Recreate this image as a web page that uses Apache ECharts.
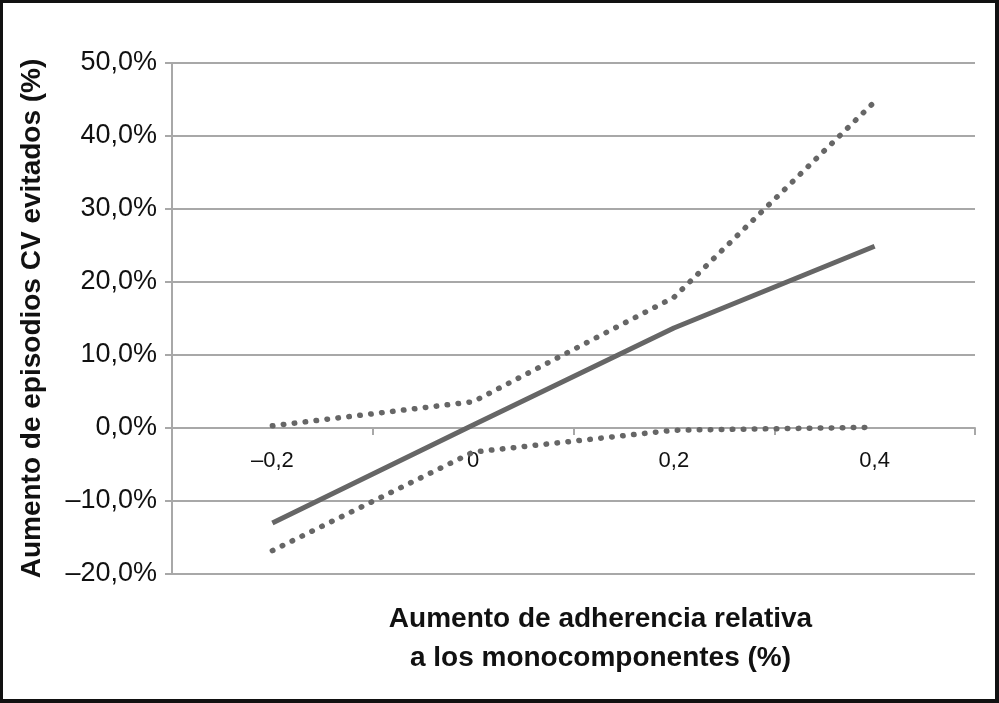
<!DOCTYPE html>
<html>
<head>
<meta charset="utf-8">
<script src="https://cdn.jsdelivr.net/npm/echarts@6/dist/echarts.min.js"></script>
<style>
html,body{margin:0;padding:0;background:#fff;}
#c{width:999px;height:703px;}
</style>
</head>
<body>
<div id="c"></div>
<script>
var categories = ['\u20130,2', '0', '0,2', '0,4'];
var central = [-13.0, 0.4, 13.7, 24.9];
var upper = [0.3, 3.6, 17.9, 44.7];
var lower = [-16.8, -3.3, -0.3, 0.1];
var yTicks = [-20, -10, 0, 10, 20, 30, 40, 50];

var chart = echarts.init(document.getElementById('c'), null, {renderer: 'canvas'});
var font = 'Liberation Sans, Arial, Helvetica, sans-serif';
var gray = '#666666';
chart.setOption({
  animation: false,
  backgroundColor: '#fff',
  grid: {left: 172, right: 24, top: 63, bottom: 129, containLabel: false, outerBoundsMode: 'none'},
  xAxis: {
    type: 'category',
    data: categories,
    boundaryGap: true,
    axisLine: {onZero: true, lineStyle: {color: '#a8a8a8', width: 2}},
    axisTick: {show: true, alignWithLabel: false, length: 7, lineStyle: {color: '#a8a8a8', width: 2}},
    axisLabel: {color: '#111', fontFamily: font, fontSize: 22, margin: -124, verticalAlign: 'top'},
    name: 'Aumento de adherencia relativa\na los monocomponentes (%)',
    nameLocation: 'middle',
    nameGap: 26,
    nameTextStyle: {color: '#111', fontFamily: font, fontSize: 28, fontWeight: 'bold', lineHeight: 39, padding: [0, 0, 0, 54]}
  },
  yAxis: {
    type: 'value',
    min: yTicks[0],
    max: yTicks[yTicks.length - 1],
    interval: 10,
    axisLine: {show: true, onZero: false, lineStyle: {color: '#a8a8a8', width: 2}},
    axisTick: {show: true, length: 7, lineStyle: {color: '#a8a8a8', width: 2}},
    splitLine: {show: true, lineStyle: {color: '#a8a8a8', width: 2}},
    axisLabel: {
      color: '#111', fontFamily: font, fontSize: 27, margin: 15,
      formatter: function (v) { return (v < 0 ? '\u2013' + (-v).toFixed(1) : v.toFixed(1)).replace('.', ',') + '%'; }
    },
    name: 'Aumento de episodios CV evitados (%)',
    nameLocation: 'middle',
    nameGap: 126,
    nameRotate: 90,
    nameTextStyle: {color: '#111', fontFamily: font, fontSize: 28, fontWeight: 'bold'}
  },
  series: [
    {type: 'line', data: central, symbol: 'none', lineStyle: {color: gray, width: 5}, z: 3},
    {type: 'line', data: upper, symbol: 'none', lineStyle: {color: gray, width: 5.5, type: [0.5, 10.5], cap: 'round'}},
    {type: 'line', data: lower, symbol: 'none', lineStyle: {color: gray, width: 5.5, type: [0.5, 10.5], cap: 'round'}}
  ],
  graphic: [
    {type: 'rect', shape: {x: 1, y: 1, width: 996, height: 700}, style: {fill: null, stroke: '#111', lineWidth: 4}, silent: true, z: 100}
  ]
});
</script>
</body>
</html>
